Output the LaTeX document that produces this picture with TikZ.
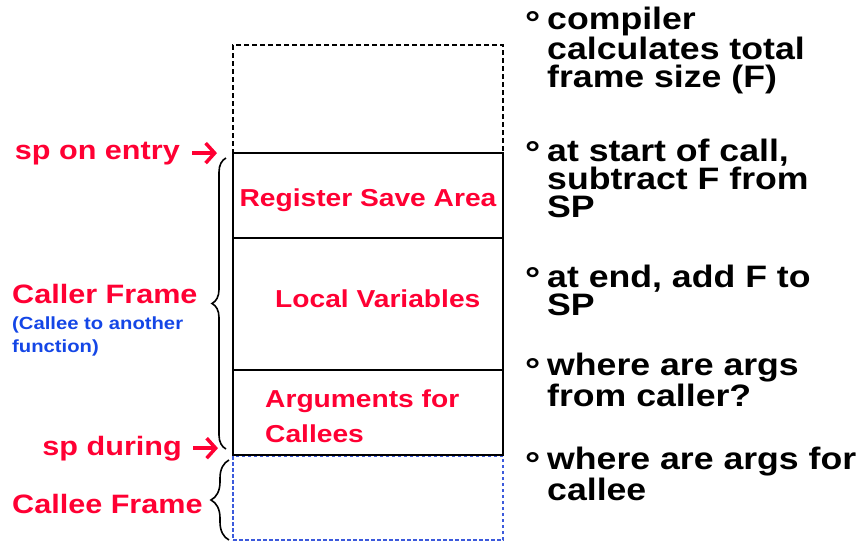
\documentclass[tikz,border=0pt]{standalone}
\usepackage{fontspec}
\setmainfont{Liberation Sans}
\newfontfamily\slidefont[FakeStretch=1.15]{Liberation Sans}
\usetikzlibrary{positioning,arrows.meta,decorations.pathreplacing}

\definecolor{framered}{RGB}{255,0,51}
\definecolor{noteblue}{RGB}{20,70,230}
\definecolor{calleeblue}{RGB}{60,90,220}

\begin{document}
\begin{tikzpicture}[
        x=1pt, y=-1pt,
        slot/.style={
                draw,
                line width=1.3pt,
                minimum width=270pt,
                inner sep=0pt,
                outer sep=0pt
            },
        spare/.style={slot, line width=1.1pt, dash pattern=on 5pt off 3pt},
        newslot/.style={slot, draw=calleeblue, line width=1.2pt, dash pattern=on 3.5pt off 2.5pt},
        boxtext/.style={text=framered, inner sep=0pt, font=\slidefont\bfseries\fontsize{24.5}{35}\selectfont},
        sidetext/.style={text=framered, inner sep=0pt, font=\slidefont\bfseries\fontsize{26.6}{30}\selectfont},
        notetext/.style={text=noteblue, inner sep=0pt, align=left, font=\slidefont\bfseries\fontsize{17.6}{23}\selectfont},
        pointtext/.style={inner sep=0pt, align=left, anchor=base west, font=\slidefont\bfseries\fontsize{31}{28}\selectfont},
        ringmark/.style={inner sep=0pt, anchor=base west, font=\slidefont\bfseries\fontsize{33}{33}\selectfont},
        sparrow/.style={draw=framered, line width=3.5pt, -{Straight Barb[length=9pt,width=20pt]}},
        framebrace/.style={decorate, decoration={brace, amplitude=14pt}, line width=1.6pt}
    ]
    \useasboundingbox (0,0) rectangle (863,542);

    % the stack
    \node[spare, minimum height=108pt] (spare) at (368,99) {};
    \node[newslot, minimum height=84pt] (calleebox) at (368,498) {};
    \node[slot, minimum height=85pt] (regsave) [below=0pt of spare] {};
    \node[slot, minimum height=132pt] (locals) [below=0pt of regsave] {};
    \node[slot, minimum height=85pt] (args) [below=0pt of locals] {};

    % multi-line nodes sit on their last line
    \node[boxtext, anchor=base] (rsa) at (368,206) {Register Save Area};
    \node[boxtext, anchor=base west] (lv) at (275,307) {Local Variables};
    \node[boxtext, anchor=base west, align=left] (afc) at (265,442) {Arguments for\\Callees};

    % left side
    \node[sidetext, anchor=base east] (entry) at (180,159) {sp on entry};
    \node[sidetext, anchor=base east] (during) at (182,455) {sp during};
    \node[sidetext, anchor=base west] (caller) at (12,303) {Caller Frame};
    \node[notetext, anchor=base west] (callernote) at (12,352) {(Callee to another\\function)};
    \node[sidetext, anchor=base west] (callee) at (12,513) {Callee Frame};

    \draw[sparrow, shorten <=12pt, shorten >=16pt] (entry.east) -- (entry.east -| regsave.west);
    \draw[sparrow, shorten <=11pt, shorten >=15pt] (during.east) -- (during.east -| args.west);

    \draw[framebrace] (226,449) -- (226,158);
    \draw[framebrace, decoration={brace, amplitude=18pt}] (229,540) -- (229,460);

    % notes
    \node[ringmark] (ring1) at (525,34) {°};
    \node[pointtext] (point1) at (547,87) {compiler\\calculates total\\frame size (F)};
    \node[ringmark] (ring2) at (525,164) {°};
    \node[pointtext] (point2) at (547,217) {at start of call,\\subtract F from\\SP};
    \node[ringmark] (ring3) at (525,290) {°};
    \node[pointtext] (point3) at (547,315) {at end, add F to\\SP};
    \node[ringmark] (ring4) at (525,381) {°};
    \node[pointtext] (point4) at (547,406) {where are args\\from caller?};
    \node[ringmark] (ring5) at (525,475) {°};
    \node[pointtext] (point5) at (547,500) {where are args for\\callee};
\end{tikzpicture}
\end{document}
